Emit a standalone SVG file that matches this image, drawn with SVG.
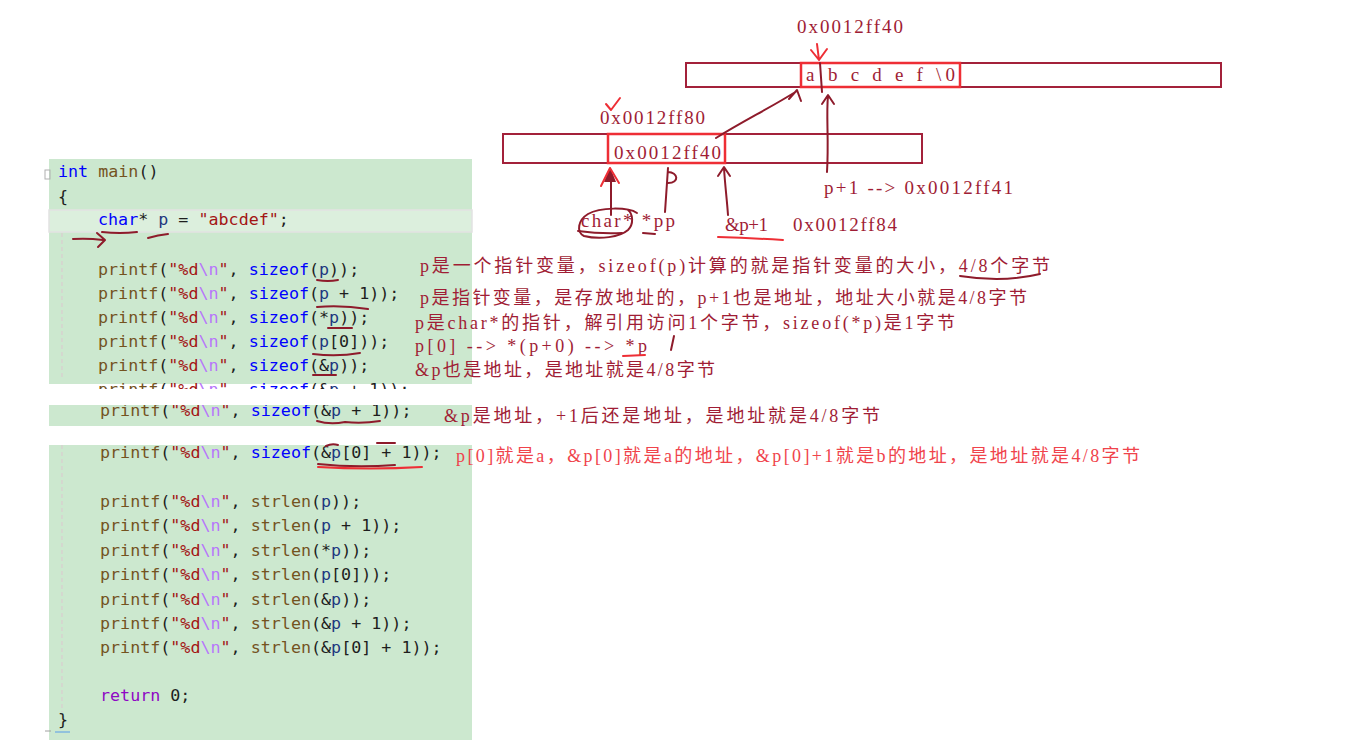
<svg xmlns="http://www.w3.org/2000/svg" width="1348" height="754" viewBox="0 0 1348 754">
<style>
.code{font-family:"DejaVu Sans Mono",monospace;font-size:16.7px;fill:#1e1e1e}
.fn{fill:#74531f}.kw{fill:#0000ff}.str{fill:#a31515}.esc{fill:#b776fb}.var{fill:#1f377f}.ret{fill:#8f08c4}
.ann{font-family:"Liberation Serif","Noto Sans CJK SC",serif;font-size:18px;fill:#a01d35}
.ann2{font-family:"Liberation Serif","Noto Sans CJK SC",serif;font-size:18px;fill:#f0434b}
.lbl{font-family:"Liberation Serif","Noto Sans CJK SC",serif;font-size:19px;fill:#a01d35}
.hand{fill:none;stroke:#8e1b2b;stroke-width:2;stroke-linecap:round;stroke-linejoin:round}
.handr{fill:none;stroke:#ee2e35;stroke-width:2;stroke-linecap:round;stroke-linejoin:round}
.outer{fill:none;stroke:#a3213a;stroke-width:2}
.inner{fill:none;stroke:#ee2e35;stroke-width:2.5}
</style>
<defs>
<clipPath id="cutA"><rect x="49" y="381" width="423" height="8"/></clipPath>
<clipPath id="cutB"><rect x="49" y="405" width="423" height="21"/></clipPath>
</defs>
<rect width="1348" height="754" fill="#ffffff"/>

<g id="code">
<rect x="49" y="159" width="423" height="225" fill="#cce8cf"/>
<rect x="49" y="405" width="423" height="21" fill="#cce8cf"/>
<rect x="49" y="445" width="423" height="295" fill="#cce8cf"/>
<rect x="49" y="210" width="423" height="22" fill="#dcefdd" stroke="#e2e2e2" stroke-width="1.5"/>
<rect x="45" y="170" width="5" height="9" fill="none" stroke="#b0b0b0" stroke-width="1"/>
<line x1="62" y1="233" x2="62" y2="380" stroke="#dcc7cf" stroke-width="1" stroke-dasharray="4 3"/>
<line x1="62" y1="445" x2="62" y2="712" stroke="#dcc7cf" stroke-width="1" stroke-dasharray="4 3"/>
<line x1="45" y1="731" x2="51" y2="731" stroke="#a0a0a0" stroke-width="1"/>
<line x1="55" y1="732" x2="70" y2="732" stroke="#7fb6e0" stroke-width="1.5"/>

<text x="58" y="177" class="code"><tspan class="kw">int</tspan> <tspan class="fn">main</tspan>()</text>
<text x="58" y="202" class="code">{</text>
<text x="98" y="225" class="code"><tspan class="kw">char</tspan>* <tspan class="var">p</tspan> = <tspan class="str">"abcdef"</tspan>;</text>
<text x="98" y="275" class="code"><tspan class="fn">printf</tspan>(<tspan class="str">"%d</tspan><tspan class="esc">\n</tspan><tspan class="str">"</tspan>, <tspan class="kw">sizeof</tspan>(<tspan class="var">p</tspan>));</text>
<text x="98" y="299" class="code"><tspan class="fn">printf</tspan>(<tspan class="str">"%d</tspan><tspan class="esc">\n</tspan><tspan class="str">"</tspan>, <tspan class="kw">sizeof</tspan>(<tspan class="var">p</tspan> + 1));</text>
<text x="98" y="323" class="code"><tspan class="fn">printf</tspan>(<tspan class="str">"%d</tspan><tspan class="esc">\n</tspan><tspan class="str">"</tspan>, <tspan class="kw">sizeof</tspan>(*<tspan class="var">p</tspan>));</text>
<text x="98" y="347" class="code"><tspan class="fn">printf</tspan>(<tspan class="str">"%d</tspan><tspan class="esc">\n</tspan><tspan class="str">"</tspan>, <tspan class="kw">sizeof</tspan>(<tspan class="var">p</tspan>[0]));</text>
<text x="98" y="371" class="code"><tspan class="fn">printf</tspan>(<tspan class="str">"%d</tspan><tspan class="esc">\n</tspan><tspan class="str">"</tspan>, <tspan class="kw">sizeof</tspan>(&amp;<tspan class="var">p</tspan>));</text>
<g clip-path="url(#cutA)">
<text x="98" y="395" class="code"><tspan class="fn">printf</tspan>(<tspan class="str">"%d</tspan><tspan class="esc">\n</tspan><tspan class="str">"</tspan>, <tspan class="kw">sizeof</tspan>(&amp;<tspan class="var">p</tspan> + 1));</text>
</g>
<g clip-path="url(#cutB)">
<text x="100" y="416" class="code"><tspan class="fn">printf</tspan>(<tspan class="str">"%d</tspan><tspan class="esc">\n</tspan><tspan class="str">"</tspan>, <tspan class="kw">sizeof</tspan>(&amp;<tspan class="var">p</tspan> + 1));</text>
</g>
<text x="100" y="458" class="code"><tspan class="fn">printf</tspan>(<tspan class="str">"%d</tspan><tspan class="esc">\n</tspan><tspan class="str">"</tspan>, <tspan class="kw">sizeof</tspan>(&amp;<tspan class="var">p</tspan>[0] + 1));</text>
<text x="100" y="507" class="code"><tspan class="fn">printf</tspan>(<tspan class="str">"%d</tspan><tspan class="esc">\n</tspan><tspan class="str">"</tspan>, <tspan class="fn">strlen</tspan>(<tspan class="var">p</tspan>));</text>
<text x="100" y="531" class="code"><tspan class="fn">printf</tspan>(<tspan class="str">"%d</tspan><tspan class="esc">\n</tspan><tspan class="str">"</tspan>, <tspan class="fn">strlen</tspan>(<tspan class="var">p</tspan> + 1));</text>
<text x="100" y="556" class="code"><tspan class="fn">printf</tspan>(<tspan class="str">"%d</tspan><tspan class="esc">\n</tspan><tspan class="str">"</tspan>, <tspan class="fn">strlen</tspan>(*<tspan class="var">p</tspan>));</text>
<text x="100" y="580" class="code"><tspan class="fn">printf</tspan>(<tspan class="str">"%d</tspan><tspan class="esc">\n</tspan><tspan class="str">"</tspan>, <tspan class="fn">strlen</tspan>(<tspan class="var">p</tspan>[0]));</text>
<text x="100" y="605" class="code"><tspan class="fn">printf</tspan>(<tspan class="str">"%d</tspan><tspan class="esc">\n</tspan><tspan class="str">"</tspan>, <tspan class="fn">strlen</tspan>(&amp;<tspan class="var">p</tspan>));</text>
<text x="100" y="629" class="code"><tspan class="fn">printf</tspan>(<tspan class="str">"%d</tspan><tspan class="esc">\n</tspan><tspan class="str">"</tspan>, <tspan class="fn">strlen</tspan>(&amp;<tspan class="var">p</tspan> + 1));</text>
<text x="100" y="653" class="code"><tspan class="fn">printf</tspan>(<tspan class="str">"%d</tspan><tspan class="esc">\n</tspan><tspan class="str">"</tspan>, <tspan class="fn">strlen</tspan>(&amp;<tspan class="var">p</tspan>[0] + 1));</text>
<text x="100" y="701" class="code"><tspan class="ret">return</tspan> 0;</text>
<text x="58" y="725" class="code">}</text>
</g>

<g id="code-marks">
<path class="hand" d="M73,239 Q88,238 103,240 M97,233 L105,240 L98,247"/>
<path class="hand" d="M102,232 Q120,234 137,232"/>
<path class="hand" d="M148,238 Q158,235 168,234"/>
<path class="hand" d="M317,280 Q328,282 338,280"/>
<path class="hand" d="M317,307 Q342,305 368,309"/>
<path class="hand" d="M328,328 L352,328"/>
<path class="hand" d="M313,354 Q337,357 360,353"/>
<path class="hand" d="M313,375 L336,375"/>
<path class="hand" d="M317,421 Q330,425 345,422 Q362,424 380,421"/>
<path class="hand" d="M326,446 Q332,443 338,445 M377,443 L395,443"/>
<path class="hand" d="M318,464 Q355,468 395,465"/>
<path class="handr" d="M318,467 Q370,470 422,467"/>
</g>

<g id="mem-top">
<rect x="686" y="63" width="535" height="24" class="outer"/>
<rect x="801" y="63" width="159" height="24" class="inner"/>
<text x="806" y="81" class="lbl">a</text>
<text x="828" y="81" class="lbl" textLength="127" lengthAdjust="spacing">b c d e f \0</text>
<path class="hand" d="M820,63 L822,92"/>
<text x="797" y="33" class="lbl" textLength="106" lengthAdjust="spacing">0x0012ff40</text>
</g>

<g id="mem-mid">
<rect x="503" y="134" width="419" height="29" class="outer"/>
<rect x="608" y="134" width="117" height="29" class="inner"/>
<text x="614" y="159" class="lbl" textLength="107" lengthAdjust="spacing">0x0012ff40</text>
<text x="600" y="124" class="lbl" textLength="105" lengthAdjust="spacing">0x0012ff80</text>
</g>

<g id="labels">
<text x="581" y="227" class="lbl" textLength="94" lengthAdjust="spacing">char* *pp</text>
<text x="725" y="231" class="lbl" textLength="43" lengthAdjust="spacing">&amp;p+1</text>
<text x="793" y="231" class="lbl" textLength="104" lengthAdjust="spacing">0x0012ff84</text>
<text x="824" y="194" class="lbl" textLength="189" lengthAdjust="spacing">p+1 --&gt; 0x0012ff41</text>
</g>

<g id="connectors">
<path class="handr" d="M817,44 Q818,52 819,60 M811,50 L819,60 L827,49"/>
<path class="hand" d="M716,138 C745,120 770,108 797,91 M789,99 L797,90 L801,101"/>
<path class="hand" d="M827,172 C829,140 826,115 828,96 M822,104 L828,95 L834,104"/>
<path class="hand" d="M611,215 L611,180"/>
<path d="M604,182 L610,167 L616,182 Z" fill="#8e1b2b"/>
<path class="handr" d="M601,186 L610,168 L619,183"/>
<path class="hand" d="M637,213 C628,207 600,207 588,214 C578,220 576,232 584,236 C600,240 620,237 628,230 C634,224 633,214 628,210"/>
<path class="hand" d="M578,231 Q600,234 622,233"/>
<path class="hand" d="M643,233 L655,234"/>
<path class="hand" d="M668,168 L665,212 M668,172 C678,172 680,183 668,183"/>
<path class="hand" d="M728,215 C727,200 725,185 724,168 M718,176 L724,167 L730,176"/>
<path class="handr" d="M718,237 Q750,238 783,240"/>
<path class="handr" d="M606,104 L611,110 L620,98"/>
</g>

<g id="annotations">
<text x="420" y="272" class="ann" textLength="630" lengthAdjust="spacing">p是一个指针变量，sizeof(p)计算的就是指针变量的大小，4/8个字节</text>
<path class="hand" d="M960,276 C985,280 1015,280 1040,274"/>
<text x="420" y="304" class="ann" textLength="607" lengthAdjust="spacing">p是指针变量，是存放地址的，p+1也是地址，地址大小就是4/8字节</text>
<text x="415" y="329" class="ann" textLength="540" lengthAdjust="spacing">p是char*的指针，解引用访问1个字节，sizeof(*p)是1字节</text>
<text x="415" y="352" class="ann" textLength="232" lengthAdjust="spacing">p[0] --&gt; *(p+0) --&gt; *p</text>
<path class="handr" d="M623,356 L645,355"/>
<path class="hand" d="M674,336 L671,350"/>
<text x="415" y="376" class="ann" textLength="300" lengthAdjust="spacing">&amp;p也是地址，是地址就是4/8字节</text>
<text x="444" y="422" class="ann" textLength="436" lengthAdjust="spacing">&amp;p是地址，+1后还是地址，是地址就是4/8字节</text>
<text x="456" y="462" class="ann2" textLength="684" lengthAdjust="spacing">p[0]就是a，&amp;p[0]就是a的地址，&amp;p[0]+1就是b的地址，是地址就是4/8字节</text>
</g>
</svg>
